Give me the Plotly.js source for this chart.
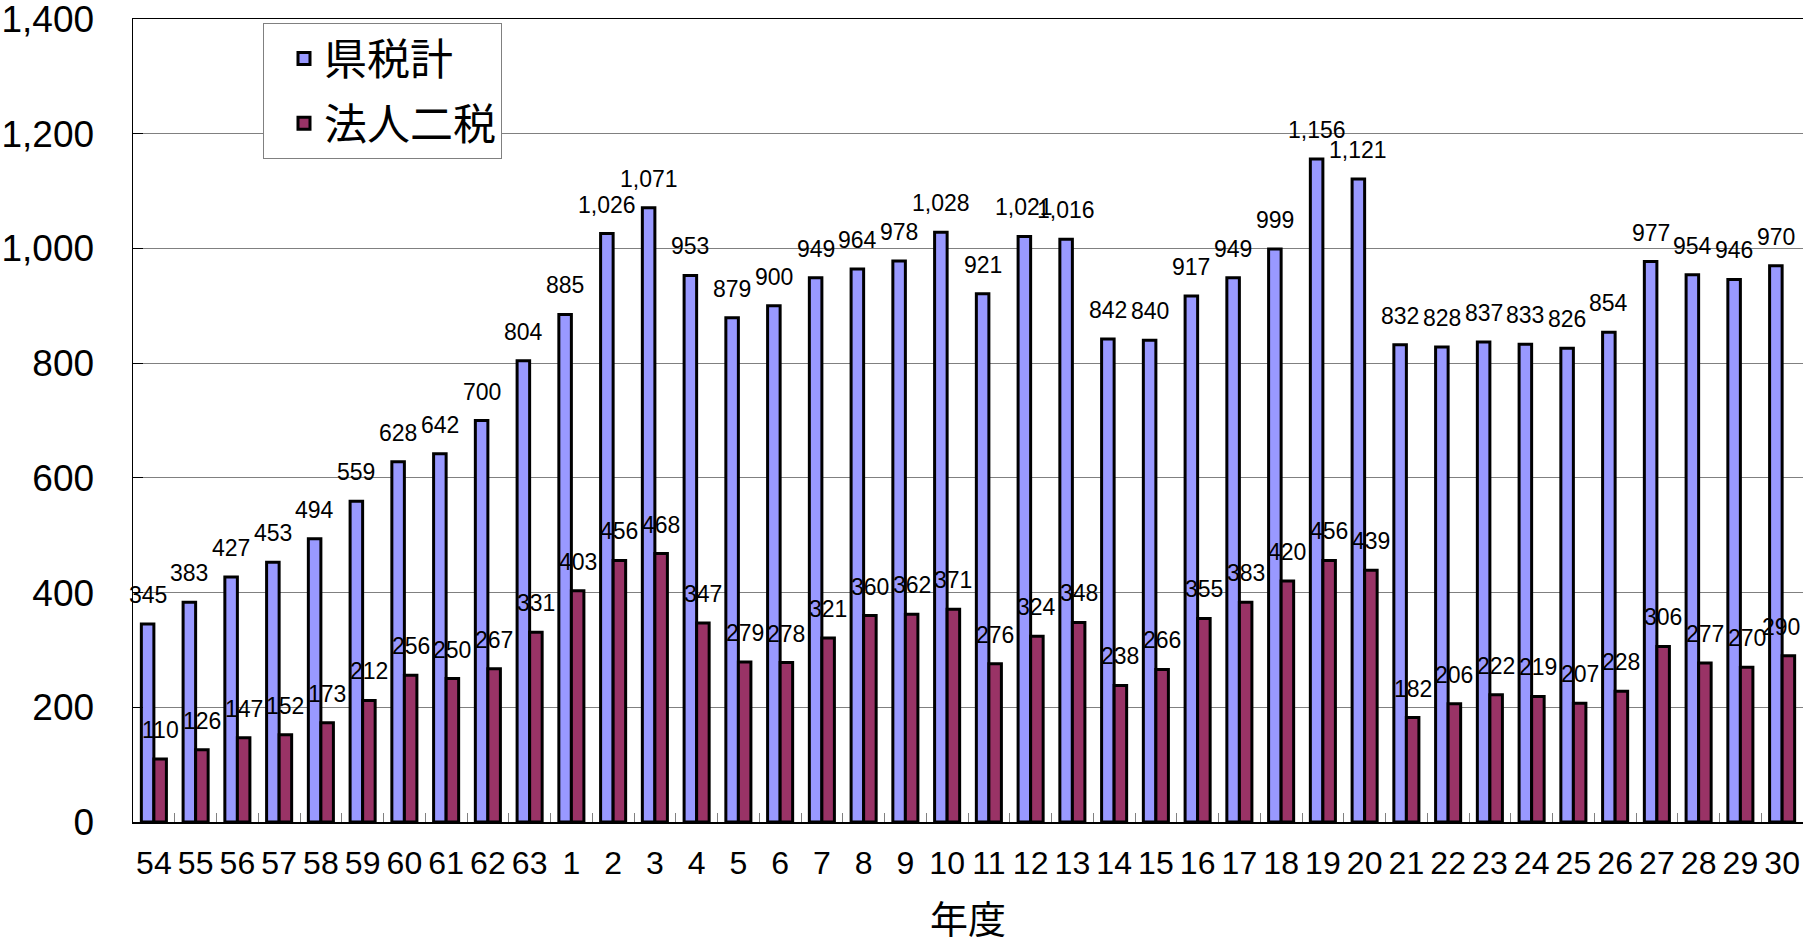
<!DOCTYPE html>
<html><head><meta charset="utf-8">
<script src="https://cdn.plot.ly/plotly-3.0.1.min.js"></script>
<style>html,body{margin:0;padding:0;background:#fff}#chart{width:1803px;height:944px}</style>
</head><body><div id="chart"></div>
<script>
const categories = ['54','55','56','57','58','59','60','61','62','63','1','2','3','4','5','6','7','8','9','10','11','12','13','14','15','16','17','18','19','20','21','22','23','24','25','26','27','28','29','30'];
const prefTaxTotal = [345,383,427,453,494,559,628,642,700,804,885,1026,1071,953,879,900,949,964,978,1028,921,1021,1016,842,840,917,949,999,1156,1121,832,828,837,833,826,854,977,954,946,970];
const corpTwoTaxes = [110,126,147,152,173,212,256,250,267,331,403,456,468,347,279,278,321,360,362,371,276,324,348,238,266,355,383,420,456,439,182,206,222,219,207,228,306,277,270,290];
const seriesNames = ['県税計','法人二税'];
const yTicks = [0,200,400,600,800,1000,1200,1400];

const W = 1803, H = 944;
const margin = {l:133, r:0, t:19, b:122};
const plotW = W - margin.l - margin.r;
const catW = plotW / categories.length;
const bargap = 0.4;
const barW = catW * (1 - bargap) / 2;

const traces = [
  {type:'bar', name:seriesNames[0], x:categories, y:prefTaxTotal, legendgroup:'a',
   marker:{color:'#9999FF', line:{color:'#000', width:3}}, hoverinfo:'x+y'},
  {type:'bar', name:seriesNames[1], x:categories, y:corpTwoTaxes, legendgroup:'b',
   marker:{color:'#993366', line:{color:'#000', width:3}}, hoverinfo:'x+y'}
];

const fmt = v => v.toLocaleString('en-US');
const labelFontSize = 23;
const annotations = [];
[prefTaxTotal, corpTwoTaxes].forEach((arr, s) => {
  arr.forEach((v, i) => {
    const txt = fmt(v);
    let shift = (s === 0 ? -1 : 1) * barW / 2;
    // keep labels inside the figure at the right edge
    const halfW = txt.length * labelFontSize * 0.28;
    const centerPx = margin.l + (i + 0.5) * catW + shift;
    if (centerPx + halfW > W - 3) shift -= (centerPx + halfW - (W - 3));
    annotations.push({
      x: i, y: v, xref:'x', yref:'y',   // category index on the category axis
      text: txt, showarrow:false,
      xanchor:'center', yanchor:'bottom',
      xshift: shift,
      yshift: 14,
      font:{family:'Liberation Sans, Arial, sans-serif', size:labelFontSize, color:'#000'}
    });
  });
});

const layout = {
  width:W, height:H, margin:margin,
  paper_bgcolor:'#fff', plot_bgcolor:'#fff',
  barmode:'group', bargap:bargap, bargroupgap:0,
  showlegend:true,
  legend:{x:(263-133)/plotW, y:1-(23-19)/(H-margin.t-margin.b), xanchor:'left', yanchor:'top',
    bgcolor:'#fff', bordercolor:'#808080', borderwidth:1,
    traceorder:'grouped', tracegroupgap:6, indentation:20,
    font:{family:'Noto Sans CJK JP, sans-serif', size:43, color:'#000'}},
  xaxis:{type:'category', categoryorder:'array', categoryarray:categories,
    range:[-0.5, categories.length - 0.5], autorange:false, tickangle:0,
    showline:true, linecolor:'#000', linewidth:1.5, mirror:true,
    ticks:'inside', tickson:'boundaries', ticklen:9, tickcolor:'#808080', tickwidth:1,
    ticklabelstandoff:12,
    tickfont:{family:'Liberation Sans, Arial, sans-serif', size:32, color:'#000'},
    showgrid:false, zeroline:false, automargin:false,
    title:{text:'年度', standoff:26, font:{family:'Noto Sans CJK JP, sans-serif', size:38, color:'#000'}}},
  yaxis:{range:[0,1400], autorange:false, tickvals:yTicks, tickformat:',d',
    showline:true, linecolor:'#000', linewidth:1.5, ticklabeloverflow:'allow',
    ticks:'inside', ticklen:10, tickcolor:'#000', tickwidth:1,
    ticklabelstandoff:30,
    tickfont:{family:'Liberation Sans, Arial, sans-serif', size:37, color:'#000'},
    showgrid:true, gridcolor:'#808080', gridwidth:1, zeroline:false, automargin:false},
  annotations:annotations
};

Plotly.newPlot('chart', traces, layout, {displayModeBar:false, staticPlot:true});
</script>
</body></html>
